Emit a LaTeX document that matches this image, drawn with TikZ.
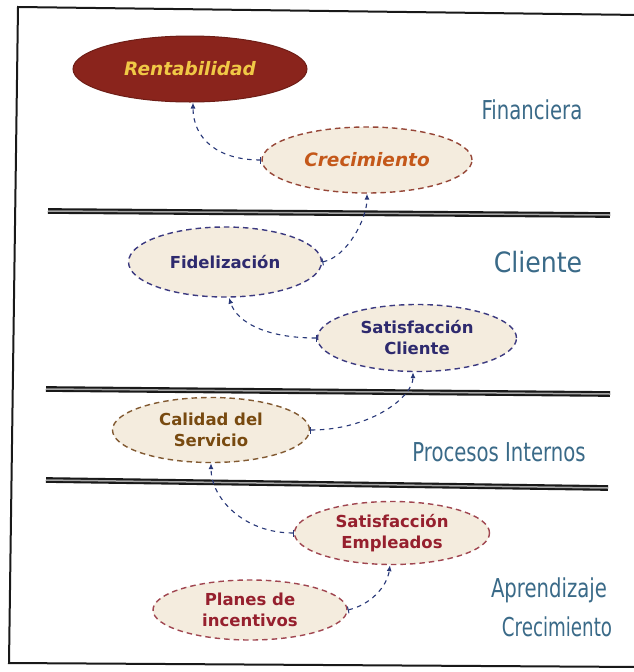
\documentclass[tikz,border=0pt]{standalone}
\usepackage{fontspec}
\usepackage{graphicx}
\setmainfont{DejaVu Sans}
\newfontfamily\sidefont{DejaVu Sans Condensed}
\usetikzlibrary{arrows.meta,shapes.geometric}
\definecolor{rentfill}{RGB}{138,36,28}
\definecolor{renttext}{RGB}{240,200,70}
\definecolor{beige}{RGB}{244,236,222}
\definecolor{crecdraw}{RGB}{150,70,55}
\definecolor{crectext}{RGB}{196,88,26}
\definecolor{navytext}{RGB}{46,42,110}
\definecolor{navydraw}{RGB}{60,58,128}
\definecolor{caltext}{RGB}{120,74,16}
\definecolor{caldraw}{RGB}{130,90,50}
\definecolor{emptext}{RGB}{150,32,46}
\definecolor{empdraw}{RGB}{160,70,80}
\definecolor{conn}{RGB}{40,56,120}
\definecolor{side}{RGB}{58,106,136}
\definecolor{frame}{RGB}{25,25,25}
\newcommand{\narrowtxt}[1]{\scalebox{0.84}[1]{#1}}
\tikzset{
  oval/.style={ellipse, inner sep=0pt, fill=beige, dash pattern=on 5.5pt off 4pt, line width=1.4pt},
  boldtxt/.style={font=\fontsize{16.5}{21}\selectfont\bfseries, align=center},
  itxt/.style={font=\fontsize{18.5}{22}\selectfont\bfseries\itshape},
  sidelbl/.style={text=side, font=\sidefont\fontsize{26}{37}\selectfont, align=center, inner sep=0pt},
  sep/.style={draw=frame, double=black!35, double distance=1.5pt, line width=2.1pt},
  link/.style={draw=conn, line width=1.1pt, dash pattern=on 4.5pt off 4.5pt, {Bar[width=7pt,line width=1pt]}-{Latex[length=6pt,width=5pt]}}
}
\begin{document}
\begin{tikzpicture}[x=1pt,y=-1pt]
\useasboundingbox (0,0) rectangle (633,672);
\fill[white] (0,0) rectangle (633,672);
% frame
\draw[frame, line width=2pt] (640,15) -- (18,7) -- (9,663) -- (640,667);
% separator lines
\draw[sep] (48,211) -- (610,215);
\draw[sep] (46,389) -- (610,394);
\draw[sep] (46,480) -- (608,488);
% nodes
\node[ellipse, inner sep=0pt, fill=rentfill, draw=rentfill!80!black, line width=1pt, minimum width=234pt, minimum height=66pt, text=renttext, itxt] (rent) at (190,69) {Rentabilidad};
\node[oval, draw=crecdraw, minimum width=210pt, minimum height=66pt, text=crectext, itxt] (crec) at (367,160) {Crecimiento};
\node[oval, draw=navydraw, minimum width=193pt, minimum height=70pt, text=navytext, boldtxt] (fid) at (225,262) {Fidelización};
\node[oval, draw=navydraw, minimum width=199pt, minimum height=67pt, text=navytext, boldtxt] (satc) at (417,338) {Satisfacción\\Cliente};
\node[oval, draw=caldraw, minimum width=197pt, minimum height=65pt, text=caltext, boldtxt] (cal) at (211,430) {Calidad del\\Servicio};
\node[oval, draw=empdraw, minimum width=195pt, minimum height=63pt, text=emptext, boldtxt] (sate) at (392,533) {Satisfacción\\Empleados};
\node[oval, draw=empdraw, minimum width=194pt, minimum height=60pt, text=emptext, boldtxt] (plan) at (250,610) {Planes de\\incentivos};
% side labels
\node[sidelbl] (lfin) at (532,110) {\narrowtxt{Financiera}};
\node[sidelbl, font=\sidefont\fontsize{28}{30}\selectfont] (lcli) at (538,262) {Cliente};
\node[sidelbl] (lpro) at (499,452) {\narrowtxt{Procesos Internos}};
\node[sidelbl] (lapr) at (549,590) {\narrowtxt{Aprendizaje}};
\node[sidelbl] (lcre) at (557,627) {\scalebox{0.78}[1]{Crecimiento}};
% connectors
\draw[link] (crec.west) .. controls +(-45,0) and +(0,35) .. ([xshift=3pt]rent.south);
\draw[link] (fid.east) .. controls +(25,-5) and +(0,25) .. (crec.south);
\draw[link] (satc.west) .. controls +(-50,0) and +(8,25) .. ([xshift=4pt]fid.south);
\draw[link] (cal.east) .. controls +(60,0) and +(0,25) .. ([xshift=-4pt]satc.south);
\draw[link] (sate.west) .. controls +(-50,0) and +(0,35) .. (cal.south);
\draw[link] (plan.east) .. controls +(22,-5) and +(-3,22) .. ([xshift=-2pt]sate.south);
\end{tikzpicture}
\end{document}
